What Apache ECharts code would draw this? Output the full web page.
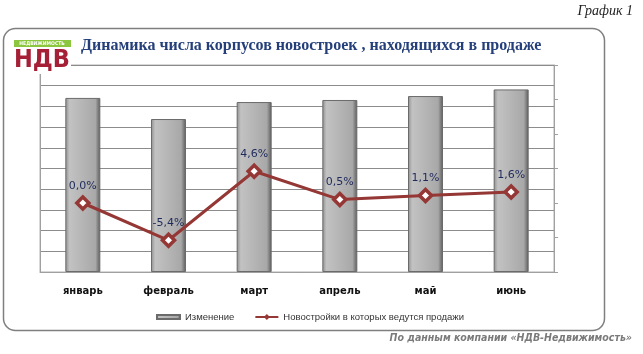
<!DOCTYPE html>
<html>
<head>
  <meta charset="utf-8">
  <script src="https://cdn.jsdelivr.net/npm/echarts/dist/echarts.min.js"></script>
  <style>
    html, body { margin: 0; padding: 0; background: #fff; }
  </style>
  <title>График 1</title>
  <script type="text/javascript">

    // months and values
    const months = ['январь', 'февраль', 'март', 'апрель', 'май', 'июнь'];
    // bar heights (left axis carries no labels, scale 0..100)
    const barValues = [84.1, 73.9, 82.1, 83.1, 85.0, 88.2];
    // line, right axis in %
    const changeValues = [0.0, -5.4, 4.6, 0.5, 1.1, 1.6];

    const barName = 'Изменение';
    const lineName = 'Новостройки в которых ведутся продажи';

    function init() {
      myChart = echarts.init(document.getElementById('main'));

      var barColor = {
        type: 'linear', x: 0, y: 0, x2: 1, y2: 0,
        colorStops: [
          { offset: 0, color: '#8e8e8e' },
          { offset: 0.12, color: '#c2c2c2' },
          { offset: 0.5, color: '#b5b5b5' },
          { offset: 0.86, color: '#a8a8a8' },
          { offset: 1, color: '#5a5a5a' }
        ]
      };

      option = {
        animation: false,
        textStyle: { fontFamily: 'DejaVu Sans' },
        graphic: [
          // outer rounded frame
          { type: 'rect', shape: { x: 3.5, y: 28.5, width: 601, height: 302, r: 12 },
            style: { fill: 'none', stroke: '#7f7f7f', lineWidth: 1.5 }, z: 0 },
          // logo
          { type: 'rect', shape: { x: 14, y: 40, width: 57, height: 7 },
            style: { fill: '#8cc63f' }, z: 10 },
          { type: 'text', x: 42, y: 43.5, z: 11,
            style: { text: 'НЕДВИЖИМОСТЬ', fill: '#fff', font: 'bold 5px DejaVu Sans Condensed',
              align: 'center', verticalAlign: 'middle' } },
          { type: 'rect', shape: { x: 14, y: 47, width: 57, height: 27 },
            style: { fill: '#fff' }, z: 10 },
          { type: 'text', x: 42, y: 60, z: 11,
            style: { text: 'НДВ', fill: '#a51f36', font: 'bold 25px DejaVu Sans Condensed',
              align: 'center', verticalAlign: 'middle' } },
          // title
          { type: 'text', left: 81, top: 38, z: 11,
            style: { text: 'Динамика числа корпусов новостроек , находящихся в продаже',
              fill: '#243f7a', font: 'bold 16px "Liberation Serif"' } },
          // top right caption
          { type: 'text', right: 10, top: 4,
            style: { text: 'График 1', fill: '#222', font: 'italic 14px "Liberation Serif"' } },
          // source
          { type: 'text', right: 11, top: 333,
            style: { text: 'По данным компании «НДВ-Недвижимость»', fill: '#7a7a7a',
              font: 'italic bold 10.5px "DejaVu Sans Condensed"' } }
        ],
        grid: { left: 40, right: 89, top: 65, bottom: 82, show: true,
          borderColor: '#b0b0b0', borderWidth: 1 },
        legend: {
          top: 307, left: 151, itemGap: 20, itemWidth: 23, itemHeight: 4,
          textStyle: { fontSize: 9.5, color: '#333', fontFamily: 'Liberation Sans' },
          data: [
            { name: barName, icon: 'rect' },
            { name: lineName }
          ]
        },
        xAxis: {
          type: 'category',
          data: months,
          axisLine: { lineStyle: { color: '#a0a0a0' } },
          axisTick: { show: false },
          axisLabel: { margin: 14, fontSize: 10, fontWeight: 'bold', color: '#111' }
        },
        yAxis: [
          {
            type: 'value', min: 0, max: 100, interval: 10,
            axisLine: { show: true, lineStyle: { color: '#a0a0a0' } },
            axisTick: { show: false },
            axisLabel: { show: false },
            splitLine: { lineStyle: { color: '#8c8c8c', width: 1 } }
          },
          {
            type: 'value', min: -10, max: 20, interval: 5, position: 'right',
            axisLine: { show: true, lineStyle: { color: '#a0a0a0' } },
            axisTick: { show: true, length: 4, inside: false, lineStyle: { color: '#a0a0a0' } },
            axisLabel: { show: false },
            splitLine: { show: false }
          }
        ],
        series: [
          {
            name: barName,
            type: 'bar',
            yAxisIndex: 0,
            barWidth: 35,
            data: barValues,
            itemStyle: { color: barColor, borderColor: '#6b6b6b', borderWidth: 1 },
            z: 2
          },
          {
            name: lineName,
            type: 'line',
            yAxisIndex: 1,
            data: changeValues,
            symbol: 'diamond',
            symbolSize: 12,
            lineStyle: { color: '#953735', width: 3 },
            itemStyle: { color: '#ffffff', borderColor: '#953735', borderWidth: 3.5 },
            label: {
              show: true, position: 'top', distance: 4,
              fontSize: 11, color: '#1f2a5c',
              formatter: function (p) { return p.value.toFixed(1).replace('.', ',') + '%'; }
            },
            z: 5
          }
        ]
      };
      myChart.setOption(option);
    }
  </script>
</head>
<body onload="init()">
  <div id="main" style="width: 643px; height: 354px;"></div>
</body>
</html>
